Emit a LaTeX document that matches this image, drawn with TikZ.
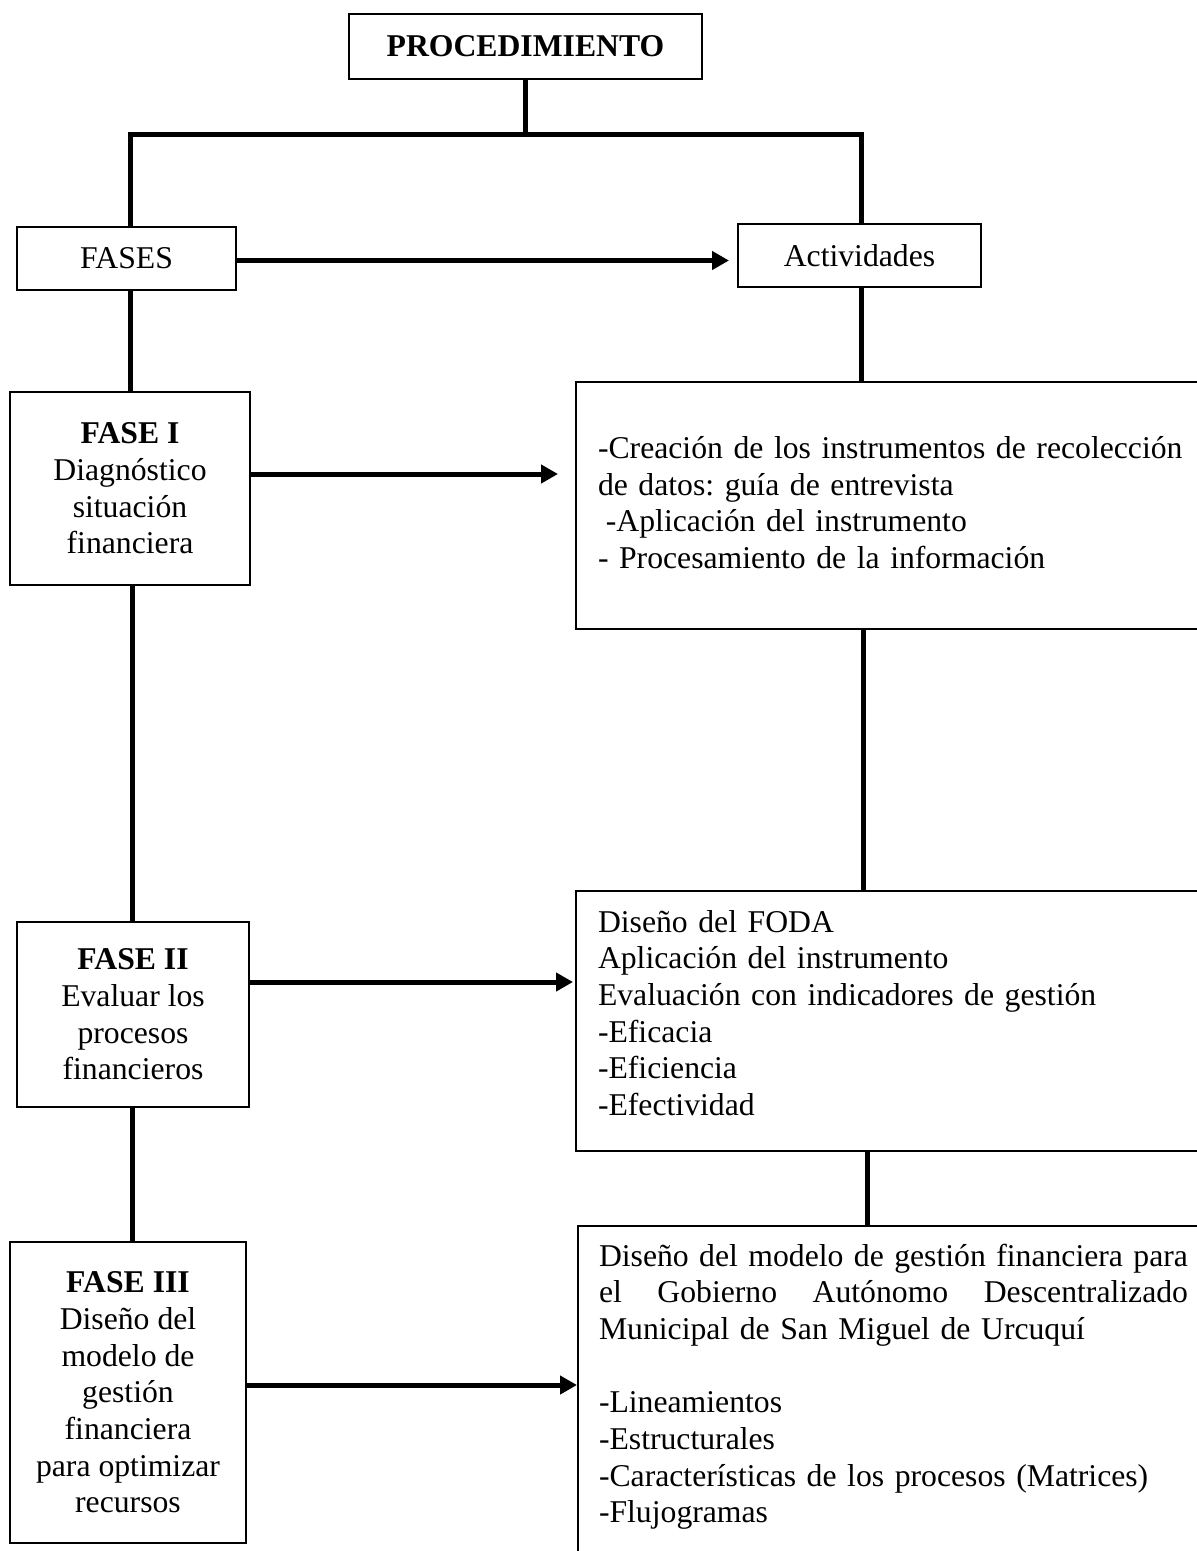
\documentclass[tikz,border=0pt]{standalone}
\usepackage{fontspec}
\setmainfont{Liberation Serif}
\usetikzlibrary{arrows.meta,calc}
\frenchspacing
\begin{document}
\begin{tikzpicture}[x=1pt,y=-1pt,
  txt/.style={font=\fontsize{31.7pt}{36.7pt}\selectfont},
  box/.style={draw,line width=2pt,inner sep=0pt,txt},
  conn/.style={line width=5pt},
  arr/.style={line width=5pt,-{Triangle[length=17pt,width=18pt]}}]
\fill[white] (0,0) rectangle (1197,1551);
\useasboundingbox (0,0) rectangle (1197,1551);
\clip (0,0) rectangle (1197,1551);

% left column
\node[box,minimum width=353pt,minimum height=65pt,font=\fontsize{31.7pt}{36.7pt}\selectfont\bfseries] (proc) at (525.5,46.5) {PROCEDIMIENTO};
\node[box,minimum width=219pt,minimum height=63pt] (fases) at (126.5,258.5) {FASES};
\node[box,minimum width=243pt,minimum height=63pt] (act) at (859.5,255.5) {Actividades};
\node[box,minimum width=240pt,minimum height=193pt,align=center] (f1) at (130,488.5)
  {\textbf{FASE I}\\Diagnóstico\\situación\\financiera};
\node[box,minimum width=232pt,minimum height=185pt,align=center] (f2) at (133,1014.5)
  {\textbf{FASE II}\\Evaluar los\\procesos\\financieros};
\node[box,minimum width=236pt,minimum height=301pt,align=center] (f3) at (128,1392.5)
  {\textbf{FASE III}\\Diseño del\\modelo de\\gestión\\financiera\\para optimizar\\recursos};

% right column
\node[box,anchor=north west,minimum height=247pt,text width=600pt,inner xsep=22pt,align=left] (b1) at (575,381)
  {-Creación de los instrumentos de recolección\\
   de datos: guía de entrevista\\
   \hspace*{0.25em}-Aplicación del instrumento\\
   - Procesamiento de la información\rule[-6pt]{0pt}{6pt}};
\node[box,anchor=north west,text width=600pt,inner xsep=22pt,inner ysep=15.3pt,align=left] (b2) at (575,890)
  {\strut Diseño del FODA\\
   Aplicación del instrumento\\
   Evaluación con indicadores de gestión\\
   -Eficacia\\
   -Eficiencia\\
   -Efectividad\rule[-20pt]{0pt}{20pt}};
\node[box,anchor=north west,text width=600pt,inner xsep=21pt,inner ysep=14.3pt,align=left] (b3) at (577,1225)
  {\strut\makebox[589pt][l]{Diseño\hfill del\hfill modelo\hfill de\hfill gestión\hfill financiera\hfill para}\\
   \makebox[589pt][l]{el\hfill Gobierno\hfill Autónomo\hfill Descentralizado}\\
   Municipal de San Miguel de Urcuquí\\
   \mbox{}\\
   -Lineamientos\\
   -Estructurales\\
   -Características de los procesos (Matrices)\\
   -Flujogramas\\
   \mbox{}\\
   \mbox{}};

% connectors
\coordinate (barL) at (130,134);
\coordinate (barR) at (861,134);
\draw[conn] (proc.south) -- (proc.south |- barL);
\draw[conn] ([xshift=-2.5pt]barL) -- ([xshift=2.5pt]barR);
\draw[conn] (barL) -- (barL |- fases.north);
\draw[conn] (barR) -- (barR |- act.north);
\draw[conn] (barL |- fases.south) -- (barL |- f1.north);
\draw[conn] ([xshift=2pt]barL |- f1.south) -- ([xshift=2pt]barL |- f2.north);
\draw[conn] ([xshift=2pt]barL |- f2.south) -- ([xshift=2pt]barL |- f3.north);
\draw[conn] (barR |- act.south) -- (barR |- b1.north);
\draw[conn] ([xshift=2pt]barR |- b1.south) -- ([xshift=2pt]barR |- b2.north);
\draw[conn] ([xshift=6pt]barR |- b2.south) -- ([xshift=6pt]barR |- b3.north);

% arrows
\coordinate (a0) at ([yshift=-2pt]fases.east);
\draw[arr,shorten >=8pt] (a0) -- (a0 -| act.west);
\coordinate (a1) at ([yshift=14.5pt]f1.east);
\draw[arr,shorten >=17pt] (a1) -- (a1 -| b1.west);
\coordinate (a2) at ([yshift=32.5pt]f2.east);
\draw[arr,shorten >=2pt] (a2) -- (a2 -| b2.west);
\coordinate (a3) at ([yshift=7.5pt]f3.east);
\draw[arr] (a3) -- (a3 -| b3.west);
\end{tikzpicture}
\end{document}
